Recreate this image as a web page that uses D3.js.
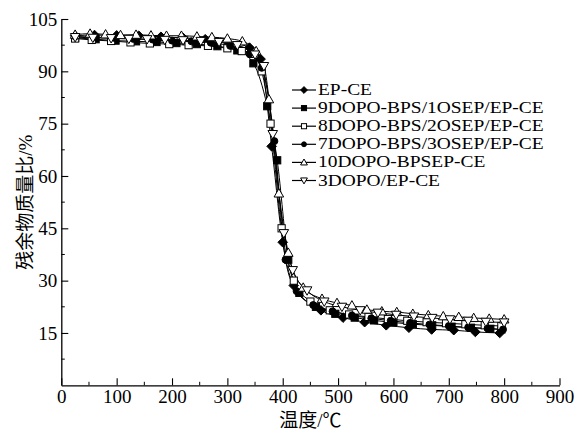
<!DOCTYPE html>
<html lang="zh">
<head>
<meta charset="utf-8">
<title>TGA curves</title>
<script src="https://d3js.org/d3.v7.min.js"></script>
<style>
  body { margin: 0; background: #fff; }
  text { font-family: "Liberation Serif", "Noto Sans CJK SC", serif; fill: #000; }
</style>
</head>
<body>
<div id="chart"></div>
<script>
var width = 579, height = 432;

// temperature (°C) and residual mass (%) per sample
var epce_T = [25, 60, 100, 140, 180, 220, 260, 300, 340, 360, 380, 400, 420, 469, 509, 548, 587, 628, 669, 709, 748, 792];
var epce_M = [100.2, 100.4, 100.3, 100.2, 99.9, 99.6, 99.2, 98.4, 96.8, 93.5, 68.5, 41, 28.6, 21.5, 19.4, 18.1, 17.2, 16.5, 16.0, 15.8, 15.3, 15.0];

var s91_T = [25, 62, 98, 135, 172, 208, 245, 282, 318, 347, 372, 390, 410, 430, 460, 495, 530, 565, 600, 635, 670, 705, 740, 775, 795];
var s91_M = [99.6, 99.2, 98.8, 98.6, 98.4, 98.1, 97.8, 97.2, 96.0, 92.3, 80, 64.5, 36, 26.5, 22.5, 20.5, 19.4, 18.6, 18.0, 17.5, 17.2, 16.8, 16.5, 16.2, 16.0];

var s82_T = [25, 55, 90, 125, 160, 195, 230, 265, 300, 326, 344, 362, 378, 398, 420, 450, 485, 520, 555, 590, 625, 660, 695, 730, 765, 795];
var s82_M = [99.4, 99.0, 98.7, 98.3, 98.0, 97.8, 97.5, 97.3, 96.6, 95.8, 95, 90, 75, 45, 30, 24, 21.5, 20.3, 19.6, 19.0, 18.5, 18.1, 17.8, 17.5, 17.2, 17.0];

var s73_T = [25, 60, 95, 130, 165, 200, 235, 270, 305, 340, 362, 385, 405, 425, 455, 490, 525, 560, 595, 630, 665, 700, 735, 770, 798];
var s73_M = [100, 99.8, 99.6, 99.3, 99.1, 98.8, 98.6, 98.2, 97.3, 95, 91, 70, 36, 27, 23, 21.2, 20.0, 19.2, 18.5, 17.9, 17.4, 17.0, 16.6, 16.3, 16.0];

var s10_T = [25, 52, 80, 107, 135, 162, 190, 217, 245, 272, 300, 327, 352, 375, 393, 410, 437, 471, 498, 525, 552, 579, 606, 635, 663, 690, 718, 745, 773, 800];
var s10_M = [100.5, 100.8, 100.6, 100.4, 100.5, 100.3, 100.2, 100.2, 100.0, 99.8, 99.4, 98.6, 95.8, 82, 55, 38, 28, 24.8, 23.6, 22.9, 21.7, 21.2, 21.0, 20.5, 20.1, 19.8, 19.6, 19.3, 19.1, 18.9];

var s3_T = [25, 57, 90, 122, 155, 187, 220, 252, 285, 318, 350, 366, 382, 402, 418, 444, 475, 507, 540, 572, 605, 637, 670, 702, 735, 767, 800];
var s3_M = [99.8, 99.6, 99.5, 99.3, 99.2, 99.0, 98.9, 98.7, 98.4, 97.5, 94.8, 91.5, 72, 43.6, 33, 27.2, 24.0, 22.5, 21.5, 20.8, 20.2, 19.7, 19.3, 18.9, 18.5, 18.2, 18.0];

var seriesNames = ["EP-CE", "9DOPO-BPS/1OSEP/EP-CE", "8DOPO-BPS/2OSEP/EP-CE",
                   "7DOPO-BPS/3OSEP/EP-CE", "10DOPO-BPSEP-CE", "3DOPO/EP-CE"];
var seriesT = [epce_T, s91_T, s82_T, s73_T, s10_T, s3_T];
var seriesM = [epce_M, s91_M, s82_M, s73_M, s10_M, s3_M];
var markers = ["diamond", "square", "squareOpen", "circle", "triUp", "triDown"];

var xTicks = [0, 100, 200, 300, 400, 500, 600, 700, 800, 900];
var yTicks = [15, 30, 45, 60, 75, 90, 105];

var svg = d3.select("#chart").append("svg")
    .attr("width", width)
    .attr("height", height);
svg.append("rect").attr("width", width).attr("height", height).attr("fill", "#fff");

var x = d3.scaleLinear().domain([0, 900]).range([61.3, 559.5]);
var y = d3.scaleLinear().domain([0, 105]).range([385.3, 19]);

// axes
var xAxis = svg.append("g")
    .attr("transform", "translate(0," + y(0) + ")")
    .call(d3.axisBottom(x).tickValues(xTicks).tickSizeInner(-7).tickSizeOuter(0).tickPadding(4.5));
xAxis.selectAll(".tick text").attr("font-size", 19).attr("font-family", null);
xAxis.append("g").selectAll("line")
    .data(d3.range(50, 900, 100))
    .enter().append("line")
    .attr("x1", function(d) { return x(d); })
    .attr("x2", function(d) { return x(d); })
    .attr("y1", 0).attr("y2", -3.5)
    .attr("stroke", "#000");

var yAxis = svg.append("g")
    .attr("transform", "translate(" + x(0) + ",0)")
    .call(d3.axisLeft(y).tickValues(yTicks).tickSizeInner(-7).tickSizeOuter(0).tickPadding(4));
yAxis.selectAll(".tick text").attr("font-size", 19).attr("font-family", null);
yAxis.append("g").selectAll("line")
    .data(d3.range(7.5, 105, 15))
    .enter().append("line")
    .attr("y1", function(d) { return y(d); })
    .attr("y2", function(d) { return y(d); })
    .attr("x1", 0).attr("x2", 3.5)
    .attr("stroke", "#000");

svg.selectAll(".domain").attr("stroke-width", 1.3);
svg.selectAll(".tick line").attr("stroke-width", 1.1);

svg.append("text")
    .attr("x", (x(0) + x(900)) / 2)
    .attr("y", 427)
    .attr("text-anchor", "middle")
    .attr("font-size", 19)
    .text("温度/℃");

svg.append("text")
    .attr("transform", "translate(25," + ((y(0) + y(105)) / 2) + ") rotate(-90)")
    .attr("text-anchor", "middle")
    .attr("dominant-baseline", "central")
    .attr("font-size", 19)
    .text("残余物质量比/%");

// marker drawing
function drawMarker(g, type, cx, cy, s) {
  var p;
  if (type == "diamond") {
    p = g.append("path").attr("d", "M" + cx + "," + (cy - s) + "L" + (cx + s) + "," + cy + "L" + cx + "," + (cy + s) + "L" + (cx - s) + "," + cy + "Z")
      .attr("fill", "#000");
  } else if (type == "square" || type == "squareOpen") {
    var h = s * 0.75;
    p = g.append("rect").attr("x", cx - h).attr("y", cy - h).attr("width", 2 * h).attr("height", 2 * h)
      .attr("fill", type == "square" ? "#000" : "#fff");
  } else if (type == "circle") {
    p = g.append("circle").attr("cx", cx).attr("cy", cy).attr("r", s * 0.72).attr("fill", "#000");
  } else if (type == "triUp") {
    p = g.append("path").attr("d", "M" + cx + "," + (cy - s) + "L" + (cx + s) + "," + (cy + s * 0.75) + "L" + (cx - s) + "," + (cy + s * 0.75) + "Z")
      .attr("fill", "#fff");
  } else {
    p = g.append("path").attr("d", "M" + cx + "," + (cy + s) + "L" + (cx + s) + "," + (cy - s * 0.75) + "L" + (cx - s) + "," + (cy - s * 0.75) + "Z")
      .attr("fill", "#fff");
  }
  p.attr("stroke", "#000").attr("stroke-width", 1);
}

var line = d3.line()
    .x(function(d) { return x(d[0]); })
    .y(function(d) { return y(d[1]); })
    .curve(d3.curveMonotoneX);

var plot = svg.append("g");
seriesNames.forEach(function(name, i) {
  var pts = seriesT[i].map(function(t, j) { return [t, seriesM[i][j]]; });
  plot.append("path")
    .datum(pts)
    .attr("d", line)
    .attr("fill", "none")
    .attr("stroke", "#000")
    .attr("stroke-width", 1);
});
seriesNames.forEach(function(name, i) {
  var g = plot.append("g");
  seriesT[i].forEach(function(t, j) {
    drawMarker(g, markers[i], x(t), y(seriesM[i][j]), 4.8);
  });
});

// legend (glyphs a little stretched sideways so rows stay tight but clear)
var legend = svg.append("g");
seriesNames.forEach(function(name, i) {
  var ly = 90 + i * 18.1;
  legend.append("line")
    .attr("x1", 292).attr("x2", 316)
    .attr("y1", ly).attr("y2", ly)
    .attr("stroke", "#000").attr("stroke-width", 1.2);
  drawMarker(legend, markers[i], 304, ly, 3.4);
  var t = legend.append("text")
    .attr("x", 318)
    .attr("y", ly)
    .attr("dominant-baseline", "central")
    .attr("font-size", 16.2)
    .text(name);
  var w = t.node().getComputedTextLength();
  t.attr("textLength", w * 1.2).attr("lengthAdjust", "spacingAndGlyphs");
});
</script>
</body>
</html>
